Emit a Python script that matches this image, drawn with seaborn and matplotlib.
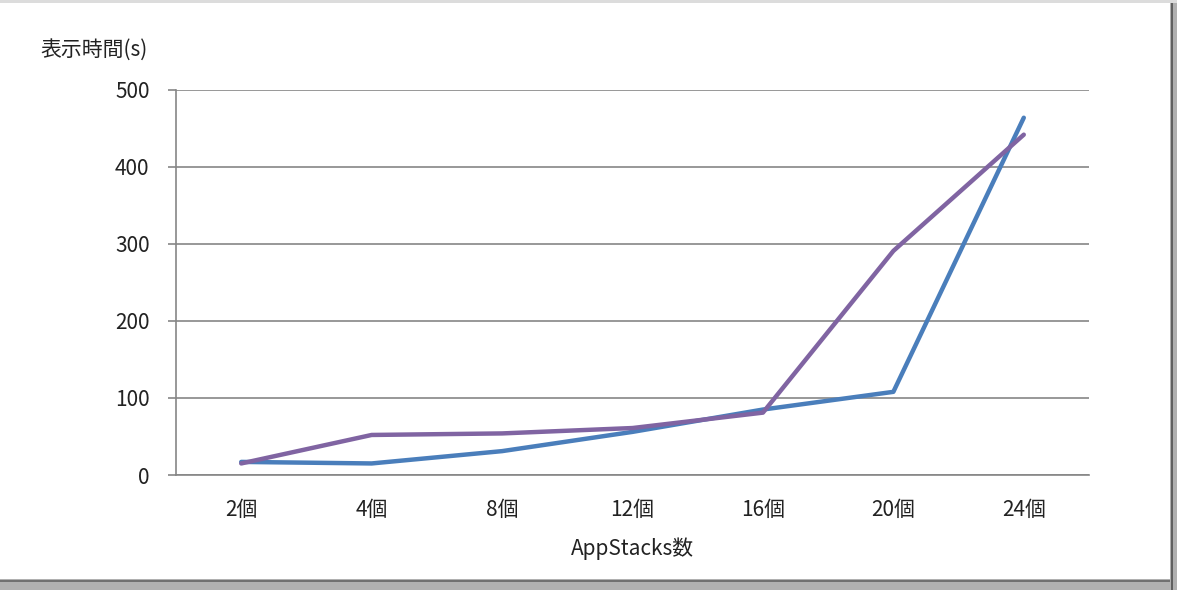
import numpy as np
import pandas as pd
import matplotlib
matplotlib.use("Agg")
import matplotlib.pyplot as plt
import seaborn as sns
from matplotlib.patches import Rectangle

categories = ["2個", "4個", "8個", "12個", "16個", "20個", "24個"]
series1 = [17, 15, 31, 56, 85, 108, 464]
series2 = [15, 52, 54, 61, 81, 291, 442]
series_names = ["系列1", "系列2"]
yticks = [0, 100, 200, 300, 400, 500]

sns.set_theme(style="white")
plt.rcParams['font.family'] = ['Noto Sans CJK JP', 'DejaVu Sans']

df = pd.DataFrame({
    "cat": categories * 2,
    "val": series1 + series2,
    "series": [series_names[0]] * len(categories) + [series_names[1]] * len(categories),
})

fig = plt.figure(figsize=(11.77, 5.90), dpi=100)
fig.patch.set_facecolor("white")
ax = fig.add_axes([176/1177, 1-475/590, (1089-176)/1177, (475-90)/590])

sns.lineplot(data=df, x="cat", y="val", hue="series", sort=False,
             palette=["#4a7ebb", "#8064a2"], linewidth=3.2, ax=ax, legend=False)

fs = 15
ax.set_xlim(-0.5, len(categories) - 0.5)
ax.set_ylim(0, 500)
ax.set_yticks(yticks)
ax.set_yticklabels([str(v) for v in yticks], fontsize=fs, color="#222222")
ax.set_xticks(range(len(categories)))
ax.set_xticklabels(categories, fontsize=fs, color="#222222")
ax.set_xticks(np.arange(-0.5, len(categories), 1), minor=True)
ax.tick_params(axis="x", which="major", length=0, pad=17)
ax.tick_params(axis="x", which="minor", length=6, width=1.2, color="#868686", direction="out")
ax.tick_params(axis="y", length=6, width=1.2, color="#868686", direction="out", pad=13, left=True)
ax.grid(axis="y", color="#868686", linewidth=1.2)
ax.grid(axis="x", visible=False)
for s in ["top", "right"]:
    ax.spines[s].set_visible(False)
for s in ["left", "bottom"]:
    ax.spines[s].set_color("#868686")
    ax.spines[s].set_linewidth(1.2)
ax.set_ylabel("")
ax.set_xlabel("AppStacks数", fontsize=fs, color="#222222", labelpad=12)

fig.text(40/1177, 1-50/590, "表示時間(s)", fontsize=fs, color="#222222", va="center", ha="left")

# frame / shadow around chart
fig.patches.append(Rectangle((0, 0), 1, 11/590, transform=fig.transFigure, facecolor="#b0b0b0", edgecolor="none", zorder=-1))
fig.patches.append(Rectangle((0, 8/590), 1, 2/590, transform=fig.transFigure, facecolor="#707070", edgecolor="none", zorder=-1))
fig.patches.append(Rectangle((1170/1177, 0), 7/1177, 1, transform=fig.transFigure, facecolor="#b0b0b0", edgecolor="none", zorder=-1))
fig.patches.append(Rectangle((1171/1177, 0), 2/1177, 1, transform=fig.transFigure, facecolor="#606060", edgecolor="none", zorder=-1))
fig.patches.append(Rectangle((0, 1-3/590), 1, 3/590, transform=fig.transFigure, facecolor="#dcdcdc", edgecolor="none", zorder=-1))

fig.savefig("out.png", dpi=100, facecolor=fig.get_facecolor())
